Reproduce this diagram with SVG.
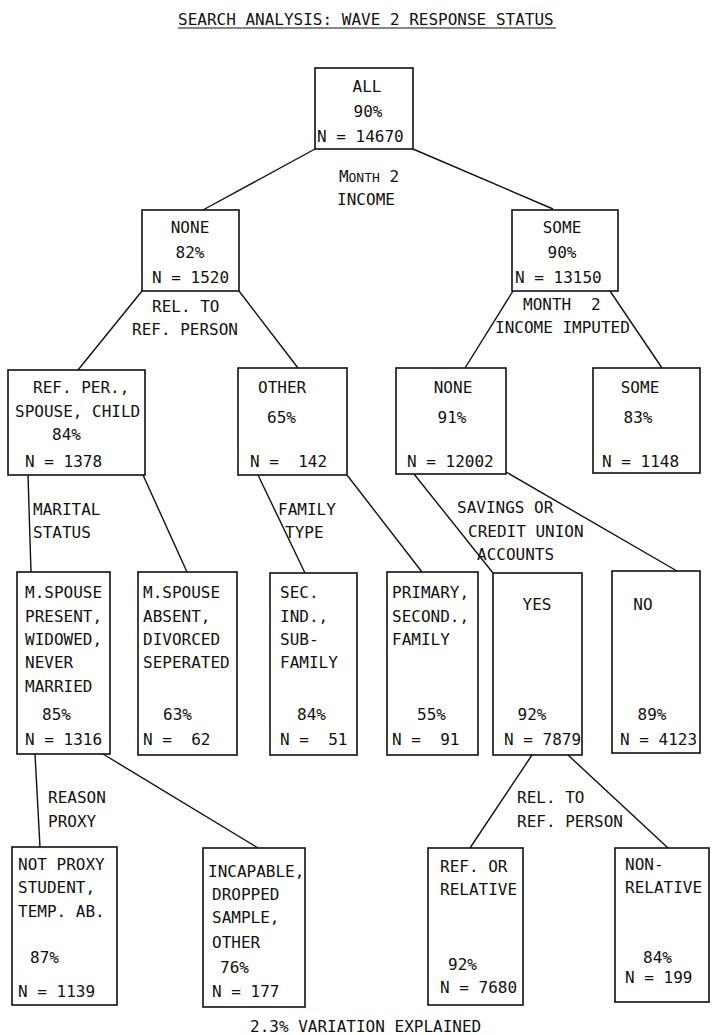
<svg xmlns="http://www.w3.org/2000/svg" width="712" height="1035" viewBox="0 0 712 1035">
<style>
text{font-family:"DejaVu Sans Mono","Liberation Mono",monospace;font-size:16px;fill:#111}
.c{text-anchor:middle}
.box{fill:none;stroke:#111;stroke-width:1.6}
.edge{fill:none;stroke:#111;stroke-width:1.4}
.sc{font-size:13px}
</style>
<rect width="712" height="1035" fill="#fff"/>
<g id="title">
<text x="178" y="25">SEARCH ANALYSIS: WAVE 2 RESPONSE STATUS</text>
<line x1="178" y1="28" x2="556" y2="28" stroke="#111" stroke-width="1.2"/>
</g>
<g id="connectors">
<line class="edge" x1="315" y1="149" x2="203" y2="210"/>
<line class="edge" x1="413" y1="149" x2="553" y2="209"/>
<line class="edge" x1="142" y1="291" x2="78" y2="370"/>
<line class="edge" x1="239" y1="291" x2="298" y2="368"/>
<line class="edge" x1="513" y1="291" x2="465" y2="368"/>
<line class="edge" x1="610" y1="291" x2="662" y2="368"/>
<line class="edge" x1="28" y1="475" x2="31" y2="572"/>
<line class="edge" x1="143" y1="475" x2="187" y2="572"/>
<line class="edge" x1="258" y1="475" x2="305" y2="573"/>
<line class="edge" x1="347" y1="475" x2="422" y2="572"/>
<line class="edge" x1="414" y1="474" x2="493" y2="573"/>
<line class="edge" x1="506" y1="472" x2="677" y2="571"/>
<line class="edge" x1="35" y1="754" x2="40" y2="847"/>
<line class="edge" x1="103" y1="754" x2="258" y2="848"/>
<line class="edge" x1="532" y1="755" x2="470" y2="848"/>
<line class="edge" x1="568" y1="755" x2="668" y2="848"/>
</g>
<g id="edge-labels">
<text x="369" y="182" class="c">M<tspan class="sc">ONTH</tspan> 2</text>
<text x="366" y="205" class="c">INCOME</text>
<text x="152" y="312">REL. TO</text>
<text x="132" y="335">REF. PERSON</text>
<text x="523" y="310">MONTH<tspan x="591">2</tspan></text>
<text x="495" y="333">INCOME IMPUTED</text>
<text x="33" y="515">MARITAL</text>
<text x="33" y="538">STATUS</text>
<text x="278" y="515">FAMILY</text>
<text x="285" y="538">TYPE</text>
<text x="457" y="513">SAVINGS OR</text>
<text x="468" y="537">CREDIT UNION</text>
<text x="477" y="560">ACCOUNTS</text>
<text x="48" y="803">REASON</text>
<text x="48" y="827">PROXY</text>
<text x="517" y="803">REL. TO</text>
<text x="517" y="827">REF. PERSON</text>
</g>
<g id="node-all">
<rect class="box" x="315" y="68" width="98" height="81"/>
<text x="367" y="92" class="c">ALL</text>
<text x="368" y="117" class="c">90%</text>
<text x="317" y="142">N = 14670</text>
</g>
<g id="node-none">
<rect class="box" x="142" y="210" width="97" height="81"/>
<text x="190" y="233" class="c">NONE</text>
<text x="190" y="258" class="c">82%</text>
<text x="152" y="283">N = 1520</text>
</g>
<g id="node-some">
<rect class="box" x="512" y="210" width="106" height="81"/>
<text x="562" y="233" class="c">SOME</text>
<text x="562" y="258" class="c">90%</text>
<text x="515" y="283">N = 13150</text>
</g>
<g id="node-refper">
<rect class="box" x="8" y="370" width="137" height="105"/>
<text x="33" y="393">REF. PER.,</text>
<text x="15" y="417">SPOUSE, CHILD</text>
<text x="52" y="440">84%</text>
<text x="25" y="467">N = 1378</text>
</g>
<g id="node-other">
<rect class="box" x="238" y="368" width="109" height="107"/>
<text x="258" y="393">OTHER</text>
<text x="267" y="423">65%</text>
<text x="250" y="467" xml:space="preserve">N =  142</text>
</g>
<g id="node-none2">
<rect class="box" x="396" y="368" width="110" height="106"/>
<text x="453" y="393" class="c">NONE</text>
<text x="452" y="423" class="c">91%</text>
<text x="407" y="467">N = 12002</text>
</g>
<g id="node-some2">
<rect class="box" x="593" y="368" width="107" height="105"/>
<text x="640" y="393" class="c">SOME</text>
<text x="638" y="423" class="c">83%</text>
<text x="602" y="467">N = 1148</text>
</g>
<g id="node-mspouse-present">
<rect class="box" x="17" y="572" width="93" height="182"/>
<text x="25" y="598">M.SPOUSE</text>
<text x="25" y="622">PRESENT,</text>
<text x="25" y="645">WIDOWED,</text>
<text x="25" y="668">NEVER</text>
<text x="25" y="692">MARRIED</text>
<text x="42" y="720">85%</text>
<text x="25" y="745">N = 1316</text>
</g>
<g id="node-mspouse-absent">
<rect class="box" x="138" y="572" width="99" height="183"/>
<text x="143" y="598">M.SPOUSE</text>
<text x="143" y="622">ABSENT,</text>
<text x="143" y="645">DIVORCED</text>
<text x="143" y="668">SEPERATED</text>
<text x="163" y="720">63%</text>
<text x="143" y="745" xml:space="preserve">N =  62</text>
</g>
<g id="node-sec">
<rect class="box" x="270" y="573" width="87" height="182"/>
<text x="280" y="598">SEC.</text>
<text x="280" y="622">IND.,</text>
<text x="280" y="645">SUB-</text>
<text x="280" y="668">FAMILY</text>
<text x="297" y="720">84%</text>
<text x="280" y="745" xml:space="preserve">N =  51</text>
</g>
<g id="node-primary">
<rect class="box" x="387" y="572" width="91" height="183"/>
<text x="392" y="598">PRIMARY,</text>
<text x="392" y="622">SECOND.,</text>
<text x="392" y="645">FAMILY</text>
<text x="417" y="720">55%</text>
<text x="392" y="745" xml:space="preserve">N =  91</text>
</g>
<g id="node-yes">
<rect class="box" x="493" y="573" width="89" height="182"/>
<text x="537" y="610" class="c">YES</text>
<text x="532" y="720" class="c">92%</text>
<text x="504" y="745">N = 7879</text>
</g>
<g id="node-no">
<rect class="box" x="612" y="571" width="88" height="182"/>
<text x="643" y="610" class="c">NO</text>
<text x="652" y="720" class="c">89%</text>
<text x="620" y="745">N = 4123</text>
</g>
<g id="node-notproxy">
<rect class="box" x="12" y="847" width="105" height="158"/>
<text x="18" y="870">NOT PROXY</text>
<text x="18" y="893">STUDENT,</text>
<text x="18" y="917">TEMP. AB.</text>
<text x="30" y="963">87%</text>
<text x="18" y="997">N = 1139</text>
</g>
<g id="node-incapable">
<rect class="box" x="203" y="848" width="102" height="159"/>
<text x="208" y="877">INCAPABLE,</text>
<text x="212" y="900">DROPPED</text>
<text x="212" y="923">SAMPLE,</text>
<text x="212" y="948">OTHER</text>
<text x="220" y="973">76%</text>
<text x="212" y="997">N = 177</text>
</g>
<g id="node-refrel">
<rect class="box" x="428" y="848" width="95" height="157"/>
<text x="440" y="872">REF. OR</text>
<text x="440" y="895">RELATIVE</text>
<text x="448" y="970">92%</text>
<text x="440" y="993">N = 7680</text>
</g>
<g id="node-nonrel">
<rect class="box" x="615" y="848" width="94" height="154"/>
<text x="625" y="870">NON-</text>
<text x="625" y="893">RELATIVE</text>
<text x="643" y="963">84%</text>
<text x="625" y="983">N = 199</text>
</g>
<g id="footer">
<text x="250" y="1032">2.3% VARIATION EXPLAINED</text>
</g>
</svg>
